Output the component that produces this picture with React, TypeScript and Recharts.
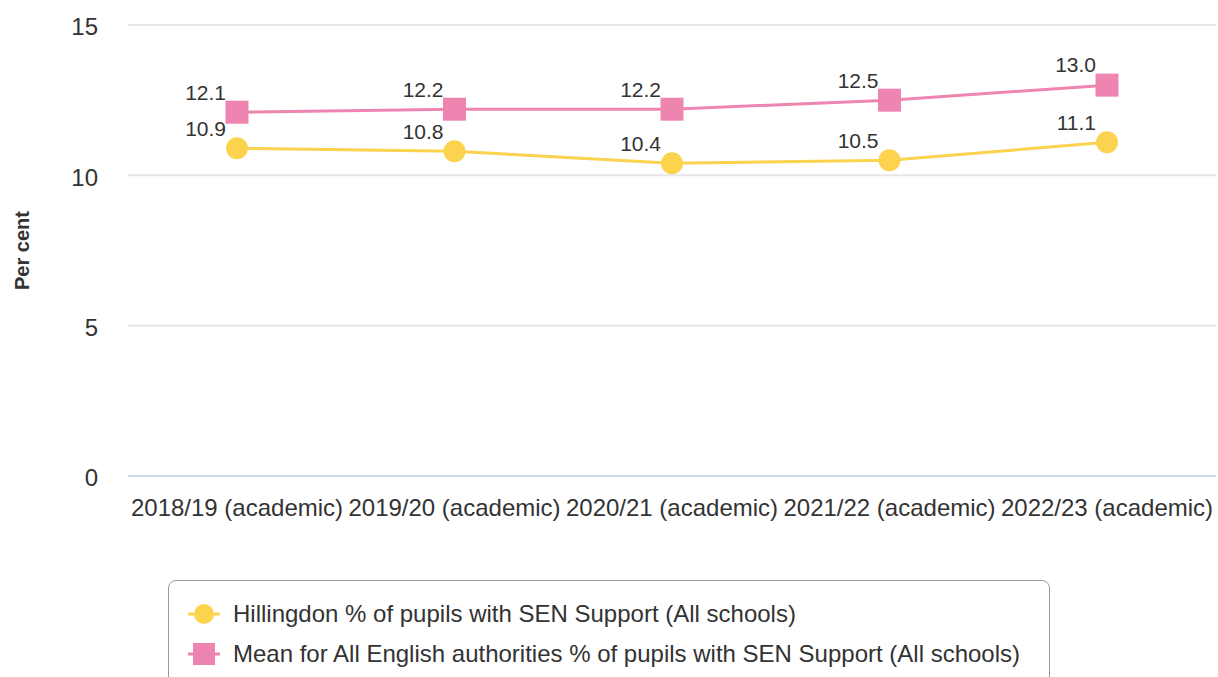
import React from "react";
import {
  LineChart,
  Line,
  XAxis,
  YAxis,
  CartesianGrid,
  Legend,
  LabelList,
} from "recharts";

const years = [
  "2018/19 (academic)",
  "2019/20 (academic)",
  "2020/21 (academic)",
  "2021/22 (academic)",
  "2022/23 (academic)",
];
const hillingdon = [10.9, 10.8, 10.4, 10.5, 11.1];
const englandMean = [12.1, 12.2, 12.2, 12.5, 13.0];
const yTicks = [0, 5, 10, 15];

const seriesNames = {
  hil: "Hillingdon % of pupils with SEN Support (All schools)",
  eng: "Mean for All English authorities % of pupils with SEN Support (All schools)",
};

const YELLOW = "#fcd34f";
const PINK = "#ee85b0";
const FONT = "'Liberation Sans', Arial, sans-serif";

const data = years.map((name, i) => ({
  name,
  hil: hillingdon[i],
  eng: englandMean[i],
}));

function SquareDot(props: any) {
  const { cx, cy } = props;
  if (cx == null || cy == null) return null;
  return <rect x={cx - 11.5} y={cy - 11.5} width={23} height={23} fill={PINK} />;
}

function CircleDot(props: any) {
  const { cx, cy } = props;
  if (cx == null || cy == null) return null;
  return <circle cx={cx} cy={cy} r={11} fill={YELLOW} />;
}

function PointLabel(props: any) {
  const { x, y, value } = props;
  return (
    <text
      x={x - 11}
      y={y - 20}
      dy="0.35em"
      textAnchor="end"
      fontSize={21}
      fontFamily={FONT}
      fill="#333"
    >
      {Number(value).toFixed(1)}
    </text>
  );
}

function XTick(props: any) {
  const { x, payload } = props;
  return (
    <text
      x={x}
      y={508}
      dy="0.35em"
      textAnchor="middle"
      fontSize={24}
      fontFamily={FONT}
      fill="#333"
    >
      {payload.value}
    </text>
  );
}

function YTick(props: any) {
  const { y, payload } = props;
  return (
    <text
      x={98}
      y={y + 2}
      dy="0.35em"
      textAnchor="end"
      fontSize={24}
      fontFamily={FONT}
      fill="#333"
    >
      {payload.value}
    </text>
  );
}

function LegendBox() {
  const items = [
    { key: "hil", color: YELLOW, shape: "circle" },
    { key: "eng", color: PINK, shape: "square" },
  ];
  return (
    <div style={{ height: 97, overflow: "visible" }}>
      <div
        style={{
          marginLeft: 168,
          width: 882,
          height: 115,
          border: "1px solid #999",
          borderRadius: 8,
          boxSizing: "border-box",
          paddingTop: 13,
          fontFamily: FONT,
          fontSize: 24,
          color: "#333",
        }}
      >
        {items.map((it) => (
          <div
            key={it.key}
            style={{ display: "flex", alignItems: "center", height: 40 }}
          >
            <svg width={64} height={30} style={{ flex: "none" }}>
              <line x1={19} y1={15} x2={51} y2={15} stroke={it.color} strokeWidth={3} />
              {it.shape === "circle" ? (
                <circle cx={35} cy={15} r={10} fill={it.color} />
              ) : (
                <rect x={24} y={4} width={22} height={22} fill={it.color} />
              )}
            </svg>
            <span>{seriesNames[it.key as "hil" | "eng"]}</span>
          </div>
        ))}
      </div>
    </div>
  );
}

export default function App() {
  return (
    <div
      style={{
        position: "absolute",
        left: 0,
        top: 0,
        width: 1218,
        height: 677,
        overflow: "hidden",
        background: "#fff",
      }}
    >
      <LineChart
        width={1218}
        height={677}
        data={data}
        margin={{ top: 25, right: 2, bottom: 0, left: 0 }}
      >
        <CartesianGrid horizontal vertical={false} stroke="#e6e6e6" strokeWidth={2} />
        <XAxis
          dataKey="name"
          interval={0}
          height={104}
          padding={{ left: 109, right: 109 }}
          axisLine={{ stroke: "#ccd6eb", strokeWidth: 2 }}
          tickLine={false}
          tick={<XTick />}
        />
        <YAxis
          width={128}
          domain={[0, 15]}
          ticks={yTicks}
          axisLine={false}
          tickLine={false}
          tick={<YTick />}
          label={{
            value: "Per cent",
            angle: -90,
            position: "insideLeft",
            offset: 0,
            style: {
              fontFamily: FONT,
              fontSize: 20,
              fontWeight: "bold",
              fill: "#333",
              textAnchor: "middle",
            },
            dx: 22,
          }}
        />
        <Legend
          verticalAlign="bottom"
          wrapperStyle={{ left: 0, width: 1218 }}
          content={<LegendBox />}
        />
        <Line
          dataKey="hil"
          stroke={YELLOW}
          strokeWidth={3}
          dot={<CircleDot />}
          activeDot={false}
          isAnimationActive={false}
        >
          <LabelList dataKey="hil" content={<PointLabel />} />
        </Line>
        <Line
          dataKey="eng"
          stroke={PINK}
          strokeWidth={3}
          dot={<SquareDot />}
          activeDot={false}
          isAnimationActive={false}
        >
          <LabelList dataKey="eng" content={<PointLabel />} />
        </Line>
      </LineChart>
    </div>
  );
}
